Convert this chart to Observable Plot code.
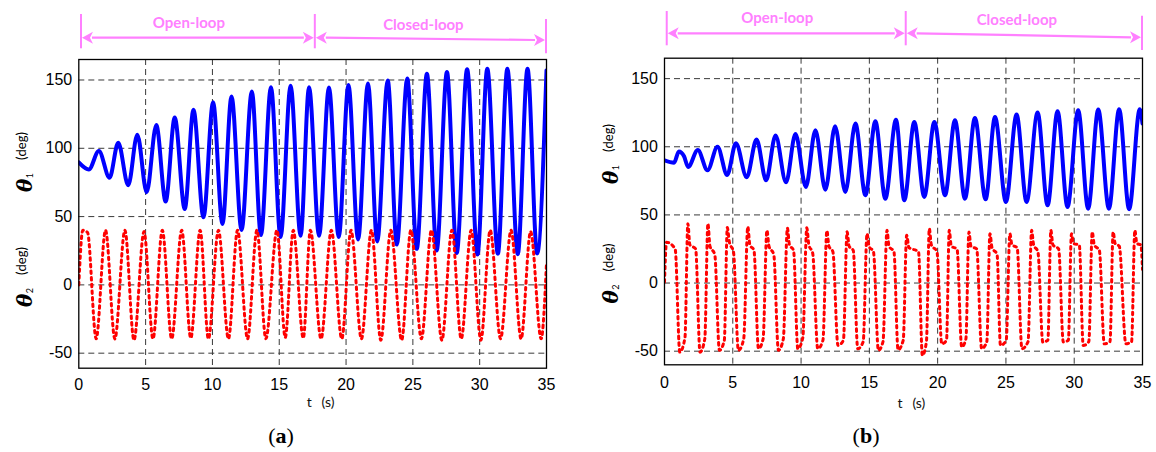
<!DOCTYPE html>
<html>
<head>
<meta charset="utf-8">
<script src="https://cdn.jsdelivr.net/npm/d3@7"></script>
<script src="https://cdn.jsdelivr.net/npm/@observablehq/plot@0.6"></script>
<style>
html, body { margin: 0; padding: 0; background: #fff; }
#wrap { position: relative; width: 1156px; height: 452px; overflow: hidden; background: #fff; }
.panel { position: absolute; top: 0; width: 578px; height: 452px; }
</style>
</head>
<body>
<div id="wrap"><div class="panel" id="pa" style="left:0"></div><div class="panel" id="pb" style="left:578px"></div></div>
<script>
// ---------------- data ----------------
const xTicks = [0, 5, 10, 15, 20, 25, 30, 35];
const yTicks = [-50, 0, 50, 100, 150];
const phaseBounds = [0.2, 17.7, 35];           // start, switch, end (s)
const phaseLabels = ["Open-loop", "Closed-loop"];
const xLabel = ["t", "(s)"];
const yLabels = [["θ", "1", "(deg)"], ["θ", "2", "(deg)"]];
const captions = ["a", "b"];

// panel (a): theta1 (blue)
const aTheta1T = [0, 0.75, 1.5, 2.3, 2.95, 3.7, 4.38, 5.08, 5.8, 6.5, 7.18, 7.93, 8.58, 9.33, 10.05, 10.75, 11.43, 12.18, 12.95, 13.63, 14.38, 15.1, 15.85, 16.6, 17.23, 17.98, 18.72, 19.45, 20.18, 20.9, 21.64, 22.33, 23.12, 23.8, 24.58, 25.29, 26.05, 26.78, 27.55, 28.28, 29.06, 29.83, 30.57, 31.36, 32.07, 32.85, 33.58, 34.3, 35];
const aTheta1V = [89.6, 84.5, 98, 78.5, 104, 73, 110, 67.8, 117, 61, 122.5, 55.5, 128.3, 49.5, 133.7, 44.6, 138, 40.2, 141.5, 36.5, 144.6, 35, 145.7, 36, 144.7, 36, 144.5, 35, 146.3, 33.3, 147.5, 31.8, 149.6, 29.5, 151.1, 26.4, 154.5, 25.2, 155.8, 23.4, 157.8, 22.2, 158.2, 22.8, 158.2, 22.5, 158.2, 23, 157];
// panel (a): theta2 (red dotted)
const aTheta2T = [0, 0.3, 0.65, 1.3, 2.0, 2.7, 3.45, 4.13, 4.88, 5.55, 6.25, 6.95, 7.7, 8.38, 9.08, 9.7, 10.45, 11.2, 11.88, 12.63, 13.33, 14.0, 14.83, 15.45, 16.05, 16.8, 17.33, 18.13, 18.9, 19.68, 20.37, 21.15, 21.9, 22.6, 23.35, 24.16, 24.85, 25.64, 26.39, 27.17, 27.92, 28.62, 29.36, 30.09, 30.79, 31.56, 32.35, 33.1, 33.81, 34.6, 35];
const aTheta2V = [0, 40, 38.5, -39.5, 40, -39.5, 40, -40.5, 39, -39.5, 40, -39.5, 40, -39, 40, -39.5, 40, -39.5, 40, -39.5, 40, -39.5, 40, -38.5, 40, -39, 40, -39.5, 40, -39.5, 40, -39.5, 40, -40.5, 40, -40.5, 40, -39.5, 40, -40.5, 40, -39.5, 40, -40.5, 40, -39.5, 40, -39.5, 39, -39.5, 16];

// panel (b): theta1 (blue)
const bTheta1T = [0, 0.7, 1.05, 1.43, 1.73, 2.44, 3.15, 3.88, 4.59, 5.23, 6.02, 6.74, 7.44, 8.13, 8.9, 9.59, 10.35, 11.05, 11.78, 12.49, 13.24, 13.98, 14.71, 15.44, 16.17, 16.95, 17.56, 18.29, 19.02, 19.76, 20.54, 21.27, 22.0, 22.73, 23.51, 24.2, 25.0, 25.78, 26.51, 27.32, 28.05, 28.78, 29.51, 30.29, 31.02, 31.76, 32.54, 33.29, 34.02, 34.8, 35];
const bTheta1V = [90, 88.3, 96.5, 93, 85.2, 97.6, 82.7, 100.1, 79.3, 102.5, 77.6, 105.3, 75.4, 108.2, 73.9, 109.4, 70.5, 112.1, 68.5, 115.1, 66.8, 117, 64.4, 118.7, 61.9, 119.8, 60.7, 118.2, 63.2, 118.2, 64.4, 119.5, 61.9, 121.2, 61.4, 121.9, 59.5, 123.6, 59.5, 125.1, 57, 126.1, 55.8, 126.8, 54.6, 127.3, 54.6, 127.5, 54.1, 127.5, 117];
// panel (b): theta2 (red dotted)
const bTheta2T = [0, 0.15, 0.78, 1.12, 1.5,
  1.71, 1.86, 2.28, 2.6, 2.95,
  3.18, 3.33, 3.68, 4.02, 4.38,
  4.6, 4.75, 5.05, 5.41, 5.8,
  6.1, 6.25, 6.55, 6.88, 7.22,
  7.5, 7.65, 8.0, 8.34, 8.7,
  9.0, 9.15, 9.45, 9.76, 10.13,
  10.42, 10.57, 10.85, 11.22, 11.6,
  11.89, 12.04, 12.33, 12.7, 13.1,
  13.37, 13.52, 13.82, 14.15, 14.55,
  14.83, 14.98, 15.3, 15.66, 16.0,
  16.29, 16.44, 16.8, 17.1, 17.48,
  17.73, 17.9, 18.6, 18.88, 19.18,
  19.39, 19.54, 19.95, 20.3, 20.65,
  20.85, 21.0, 21.42, 21.76, 22.07,
  22.29, 22.44, 22.86, 23.22, 23.6,
  23.83, 23.98, 24.35, 24.6, 25.02,
  25.29, 25.44, 25.82, 26.17, 26.62,
  26.88, 27.03, 27.34, 27.7, 28.07,
  28.29, 28.44, 28.86, 29.2, 29.57,
  29.8, 29.95, 30.37, 30.66, 31.07,
  31.32, 31.47, 31.84, 32.2, 32.62,
  32.85, 33.0, 33.3, 33.78, 34.2,
  34.44, 34.59, 34.88, 35];
const bTheta2V = [0.7, 30, 25, -50.7, -40,
  43.6, 28, 25, -50.7, -41,
  43.6, 27, 21, -49.4, -42,
  40.7, 30, 23, -49.4, -41,
  41.3, 28, 24, -48.2, -41,
  38.7, 27, 21, -49.4, -41,
  40.3, 28, 24, -48.2, -40,
  40.5, 28, 22, -48.2, -42,
  38.4, 27, 23, -45.8, -42,
  37.6, 27, 24, -48.2, -43,
  36.2, 27, 23, -49.4, -43,
  38.7, 27, 23, -49, -42,
  35, 26, 23, -53.1, -43,
  39.9, 28, 23, -44.6, -42,
  38.7, 27, 25, -47, -41,
  37.5, 27, 25, -48.2, -43,
  36.2, 26, 21, -45.8, -42,
  36.2, 28, 26, -48.2, -43,
  38.7, 28, 23, -43.3, -42,
  38.7, 28, 25, -43.3, -42,
  36.2, 29, 28, -45.8, -43,
  37.5, 28, 24, -44.6, -43,
  37.5, 29, 27, -44.6, -43,
  38.7, 29, 28, 10];

// ---------------- drawing ----------------
const PINK = "#ff80ff";
const rows = (ts, vs) => ts.map((t, i) => ({t, v: vs[i]}));

function decorations(L) {
  return (index, scales, values, dim) => {
    const x = scales.x;
    const g = d3.create("svg:g");
    const fl = dim.marginLeft, fr = dim.width - dim.marginRight;
    const [xa, xb, xc] = phaseBounds.map(b => x(b));
    const T = L.pinkTop, H = 34.3;
    const ay = T + L.arrowDy;
    // vertical bars
    [[xa, T], [xb, T], [xc, T + L.rightDrop]].forEach(([px, py]) => {
      g.append("line").attr("x1", px).attr("x2", px).attr("y1", py).attr("y2", py + H)
        .attr("stroke", PINK).attr("stroke-width", 2);
    });
    const arrow = (x1, y1, x2, y2) => {
      const hl = 12, hw = 6;
      g.append("line").attr("x1", x1 + hl - 1).attr("y1", y1).attr("x2", x2 - hl + 1).attr("y2", y2)
        .attr("stroke", PINK).attr("stroke-width", 2.2);
      g.append("path").attr("d", `M${x1 + 1},${y1} L${x1 + hl},${y1 - hw} L${x1 + hl - 3},${y1} L${x1 + hl},${y1 + hw} Z`).attr("fill", PINK);
      g.append("path").attr("d", `M${x2 - 1},${y2} L${x2 - hl},${y2 - hw} L${x2 - hl + 3},${y2} L${x2 - hl},${y2 + hw} Z`).attr("fill", PINK);
    };
    arrow(xa, ay, xb, ay);
    arrow(xb, ay, xc, ay + L.closedSlope);
    const ptxt = (cx, y, s) => g.append("text").attr("x", cx).attr("y", y).attr("text-anchor", "middle")
      .attr("font-family", "Lato, 'Open Sans', sans-serif").attr("font-weight", "bold").attr("font-size", 15)
      .attr("fill", PINK).text(s);
    ptxt((xa + xb) / 2 - 9, ay - 10, phaseLabels[0]);
    ptxt((xb + xc) / 2 - 7, ay - 8, phaseLabels[1]);

    // y labels (rotated, reading bottom to top)
    [[L.th1Y, yLabels[0]], [L.th2Y, yLabels[1]]].forEach(([yy, parts]) => {
      const t = g.append("text").attr("text-anchor", "start").attr("fill", "#000")
        .attr("transform", `translate(${fl + L.labDx},${yy}) rotate(-90)`);
      t.append("tspan").attr("font-family", "'DejaVu Serif', serif").attr("font-style", "italic")
        .attr("font-weight", "bold").attr("font-size", 20).text(parts[0]);
      t.append("tspan").attr("font-family", "Lato, sans-serif").attr("font-size", 9).attr("dy", 1).attr("dx", 0.5).text(parts[1]);
      t.append("tspan").attr("font-family", "Lato, sans-serif").attr("font-size", 13).attr("dy", -6.5).attr("dx", 13).text(parts[2]);
    });

    // x label
    const cx = (fl + fr) / 2;
    const xl = g.append("text").attr("y", L.tsY).attr("text-anchor", "start")
      .attr("font-family", "Lato, sans-serif").attr("font-size", 14).attr("fill", "#111");
    xl.append("tspan").attr("x", cx - 5.5).text(xLabel[0]);
    xl.append("tspan").attr("x", cx + 9.4).text(xLabel[1]);

    // caption
    const cap = g.append("text").attr("x", L.capX).attr("y", L.capY).attr("text-anchor", "middle")
      .attr("font-family", "'Liberation Serif', serif").attr("font-size", 22).attr("fill", "#000");
    cap.append("tspan").text("(");
    cap.append("tspan").attr("font-weight", "bold").text(L.cap);
    cap.append("tspan").text(")");
    return g.node();
  };
}

function panel(L, t1T, t1V, t2T, t2V) {
  const s1 = rows(t1T, t1V), s2 = rows(t2T, t2V);
  const gridStyle = {stroke: "#3a3a3a", strokeOpacity: 1, strokeWidth: 1, strokeDasharray: "6,4"};
  return Plot.plot({
    width: 578, height: 452,
    marginLeft: L.ml, marginRight: L.mr, marginTop: L.mt, marginBottom: L.mb,
    x: {domain: [0, 35]},
    y: {domain: L.yDomain},
    style: {background: "white", fontFamily: "'Liberation Sans', Arial, sans-serif", fontSize: "16px", color: "black", overflow: "visible"},
    marks: [
      Plot.gridX(xTicks.slice(1, -1), gridStyle),
      Plot.gridY(yTicks, gridStyle),
      Plot.line(s1, {x: "t", y: "v", stroke: "#0000ff", strokeWidth: 4, curve: "monotone-x", strokeLinejoin: "round", clip: true}),
      Plot.line(s2, {x: "t", y: "v", stroke: "#ff0000", strokeWidth: 3, strokeDasharray: "2.6,4", curve: "monotone-x", clip: true}),
      Plot.frame({stroke: "black", strokeWidth: 1.3}),
      Plot.axisX(xTicks, {tickSize: 0, tickPadding: L.xPad, tickFormat: d => String(d), label: null, fontSize: 16}),
      Plot.axisY(yTicks, {tickSize: 0, tickPadding: L.yPad, tickFormat: d => String(d), label: null, fontSize: 16}),
      decorations(L)
    ]
  });
}

const layoutA = {ml: 78.3, mr: 32, mt: 59, mb: 84.3, yDomain: [-61, 165], xPad: 10, yPad: 6.6,
  pinkTop: 14, arrowDy: 23.7, rightDrop: 5, closedSlope: 2.3,
  th1Y: 192, th2Y: 307, labDx: -46.6, tsY: 407, capX: 281, capY: 443, cap: captions[0]};
const layoutB = {ml: 86, mr: 14, mt: 57.7, mb: 87.7, yDomain: [-60, 165], xPad: 12, yPad: 6.6,
  pinkTop: 11, arrowDy: 22.3, rightDrop: 4.7, closedSlope: 4,
  th1Y: 184, th2Y: 303.5, labDx: -46, tsY: 408, capX: 288, capY: 443, cap: captions[1]};

document.getElementById("pa").appendChild(panel(layoutA, aTheta1T, aTheta1V, aTheta2T, aTheta2V));
document.getElementById("pb").appendChild(panel(layoutB, bTheta1T, bTheta1V, bTheta2T, bTheta2V));
</script>
</body>
</html>
